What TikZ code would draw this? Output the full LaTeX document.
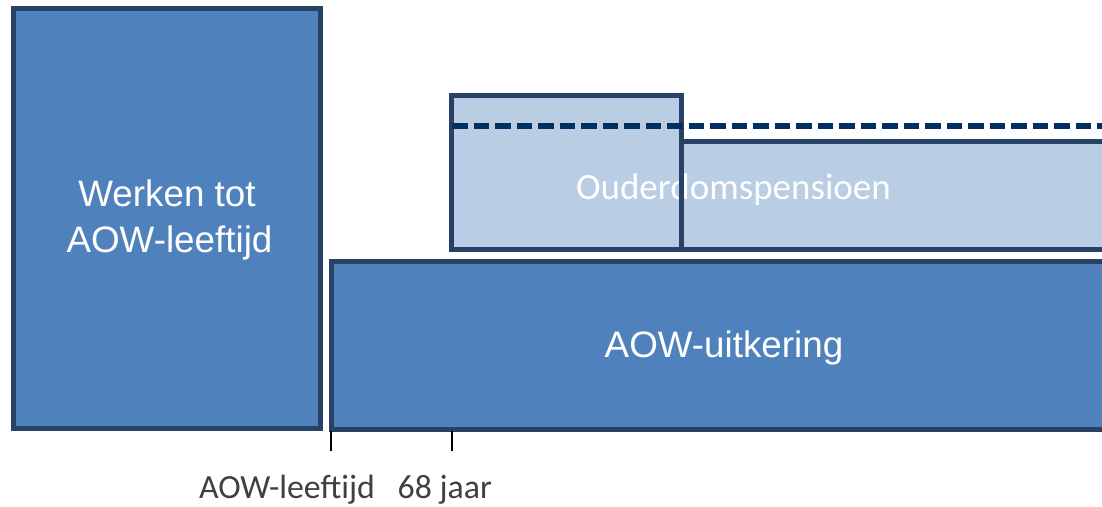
\documentclass[tikz,border=0pt]{standalone}
\usepackage{fontspec}
\setmainfont{Liberation Sans}
\newfontfamily\calib{Carlito}
\definecolor{boxdark}{RGB}{79,129,189}
\definecolor{boxlight}{RGB}{185,205,229}
\definecolor{edge}{RGB}{40,65,102}
\definecolor{navy}{RGB}{0,48,96}
\definecolor{labelgray}{RGB}{64,64,64}
\tikzset{
  darkbox/.style={fill=boxdark,draw=edge,line width=5pt},
  lightbox/.style={fill=boxlight,draw=edge,line width=5pt},
  bigtext/.style={text=white,inner sep=0pt,font=\fontsize{36.8}{46}\selectfont},
  pentext/.style={text=white,inner sep=0pt,font=\calib\fontsize{37}{44}\selectfont},
  axistext/.style={text=labelgray,inner sep=0pt,font=\calib\fontsize{33.8}{40}\selectfont},
  tick/.style={draw=black,line width=1.3pt}
}
\begin{document}
\begin{tikzpicture}[x=1pt,y=1pt]
\useasboundingbox (0,0) rectangle (1102,506);
\clip (0,0) rectangle (1102,506);
% left box: Werken tot AOW-leeftijd
\draw[darkbox] (13.5,77.5) rectangle (320.5,497.5);
% AOW-uitkering
\draw[darkbox] (331.5,76.5) rectangle (1115,244.5);
% Ouderdomspensioen boxes
\draw[lightbox] (681.5,256.5) rectangle (1115,364.5);
\draw[lightbox] (451.5,256.5) rectangle (681.5,410.5);
% texts
\node[bigtext,anchor=base] (w1) at (167,299) {Werken tot};
\node[bigtext,anchor=base] (w2) at (169.5,253) {AOW-leeftijd};
\node[bigtext,anchor=base] (aow) at (724,148) {AOW-uitkering};
\node[pentext,anchor=base] (op) at (733.5,306) {Ouderdomspensioen};
% shared edge over the text
\draw[draw=edge,line width=5pt] (681.5,364.5) -- (681.5,256.5);
% dashed line
\coordinate (d0) at (452,380);
\coordinate (d1) at (1110,380);
\draw[navy,line width=5.5pt,dash pattern=on 15.5pt off 6pt] (d0) -- (d1);
% ticks
\coordinate (t1a) at (331,75);
\coordinate (t1b) at (331,55);
\coordinate (t2a) at (452,75);
\coordinate (t2b) at (452,55);
\draw[tick] (t1a) -- (t1b);
\draw[tick] (t2a) -- (t2b);
% axis labels
\node[axistext,anchor=base west] (l1) at (199,8) {AOW-leeftijd};
\node[axistext,anchor=base west] (l2) at (397.5,8) {68 jaar};
\end{tikzpicture}
\end{document}
